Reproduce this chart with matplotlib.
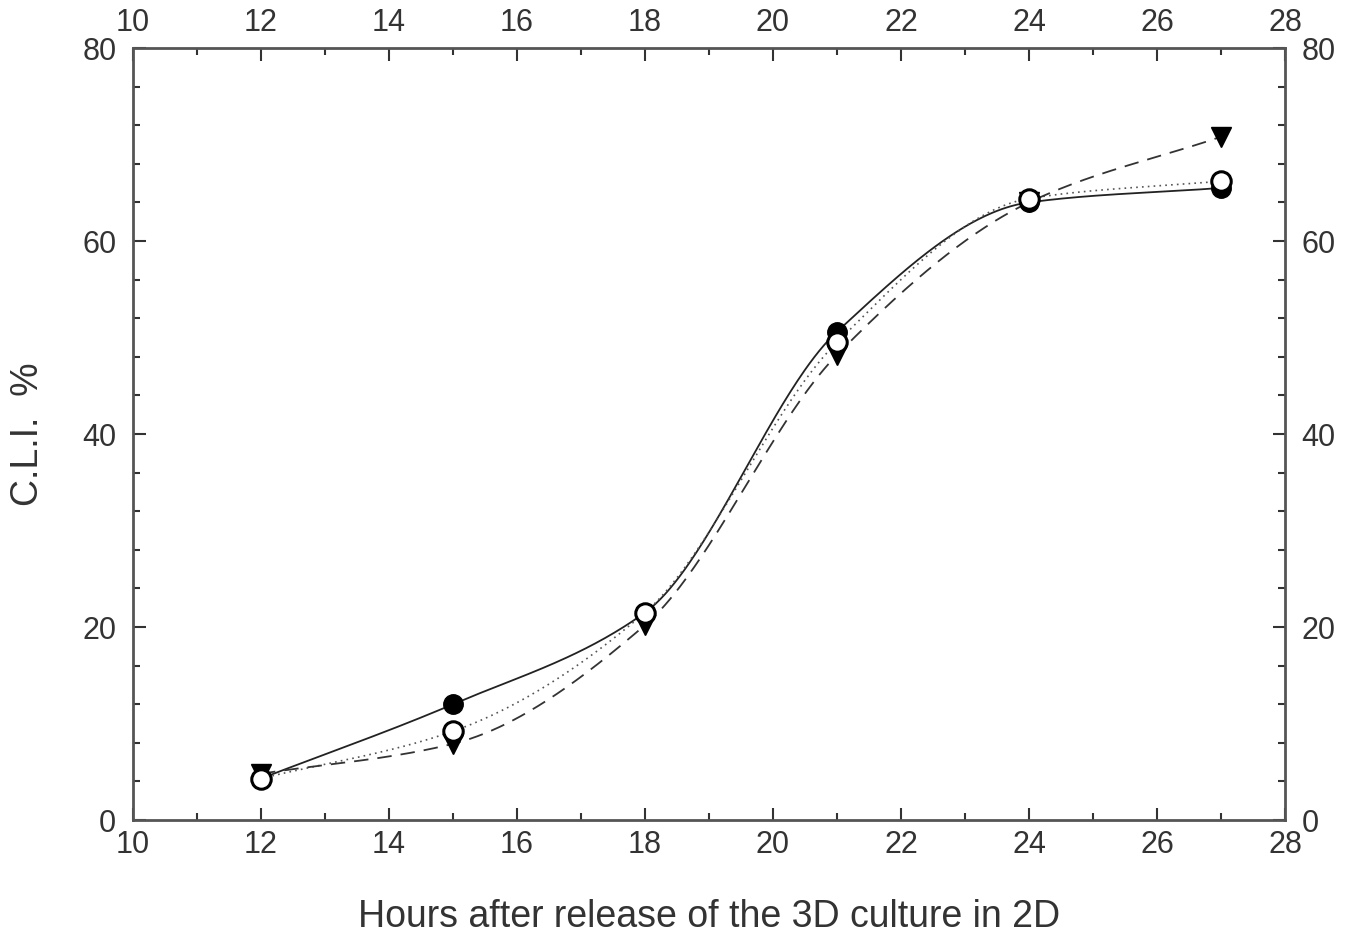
import numpy as np
import matplotlib
matplotlib.use("Agg")
import matplotlib.pyplot as plt
from matplotlib.ticker import MultipleLocator

hours = [12, 15, 18, 21, 24, 27]
filled_circles = [4.3, 12.0, 21.5, 50.6, 64.0, 65.5]
open_circles = [4.3, 9.2, 21.5, 49.5, 64.4, 66.2]
triangles = [4.8, 7.9, 20.2, 48.2, 64.0, 70.8]


def pchip(x, y, xs):
    x = np.asarray(x, float); y = np.asarray(y, float)
    h = np.diff(x); d = np.diff(y) / h
    n = len(x); m = np.zeros(n)
    for k in range(1, n - 1):
        if d[k - 1] * d[k] > 0:
            w1 = 2 * h[k] + h[k - 1]; w2 = h[k] + 2 * h[k - 1]
            m[k] = (w1 + w2) / (w1 / d[k - 1] + w2 / d[k])
    m[0] = d[0]; m[-1] = d[-1]
    out = np.empty_like(xs)
    for i, xv in enumerate(xs):
        k = min(np.searchsorted(x, xv) - 1, n - 2); k = max(k, 0)
        t = (xv - x[k]) / h[k]
        h00 = 2 * t**3 - 3 * t**2 + 1; h10 = t**3 - 2 * t**2 + t
        h01 = -2 * t**3 + 3 * t**2; h11 = t**3 - t**2
        out[i] = h00 * y[k] + h10 * h[k] * m[k] + h01 * y[k + 1] + h11 * h[k] * m[k + 1]
    return out


plt.rcParams['font.family'] = ['Liberation Sans', 'DejaVu Sans']
fig = plt.figure(figsize=(13.52, 9.36), dpi=100)
ax = fig.add_axes([0.0984, 0.1239, 0.852, 0.8248])

xs = np.linspace(12, 27, 400)
ax.plot(xs, pchip(hours, filled_circles, xs), color='#222222', lw=1.3, ls='-')
ax.plot(xs, pchip(hours, open_circles, xs), color='#555555', lw=1.2, ls=(0, (1, 2.5)))
ax.plot(xs, pchip(hours, triangles, xs), color='#333333', lw=1.3, ls=(0, (8, 5)))

ax.plot(hours, triangles, 'v', color='black', ms=14, ls='none')
ax.plot(hours, filled_circles, 'o', color='black', ms=14, ls='none')
ax.plot(hours, open_circles, 'o', mfc='white', mec='black', mew=2.2, ms=14, ls='none')

ax.set_xlim(10, 28)
ax.set_ylim(0, 80)
ax.xaxis.set_major_locator(MultipleLocator(2))
ax.xaxis.set_minor_locator(MultipleLocator(1))
ax.yaxis.set_major_locator(MultipleLocator(20))
ax.yaxis.set_minor_locator(MultipleLocator(4))
ax.tick_params(which='both', direction='in', top=True, right=True,
               labeltop=True, labelright=True, labelsize=22, colors='#333333')
ax.tick_params(axis='x', which='major', pad=7)
ax.tick_params(axis='y', which='major', pad=12)
ax.tick_params(which='major', length=9, width=1.5)
ax.tick_params(which='minor', length=5, width=1.5)
for s in ax.spines.values():
    s.set_color('#555555'); s.set_linewidth(2)

ax.set_xlabel('Hours after release of the 3D culture in 2D', fontsize=27, color='#333333', labelpad=28)
ax.set_ylabel('C.L.I.  %', fontsize=27, color='#333333', labelpad=26)

fig.savefig('out.png', dpi=100)
